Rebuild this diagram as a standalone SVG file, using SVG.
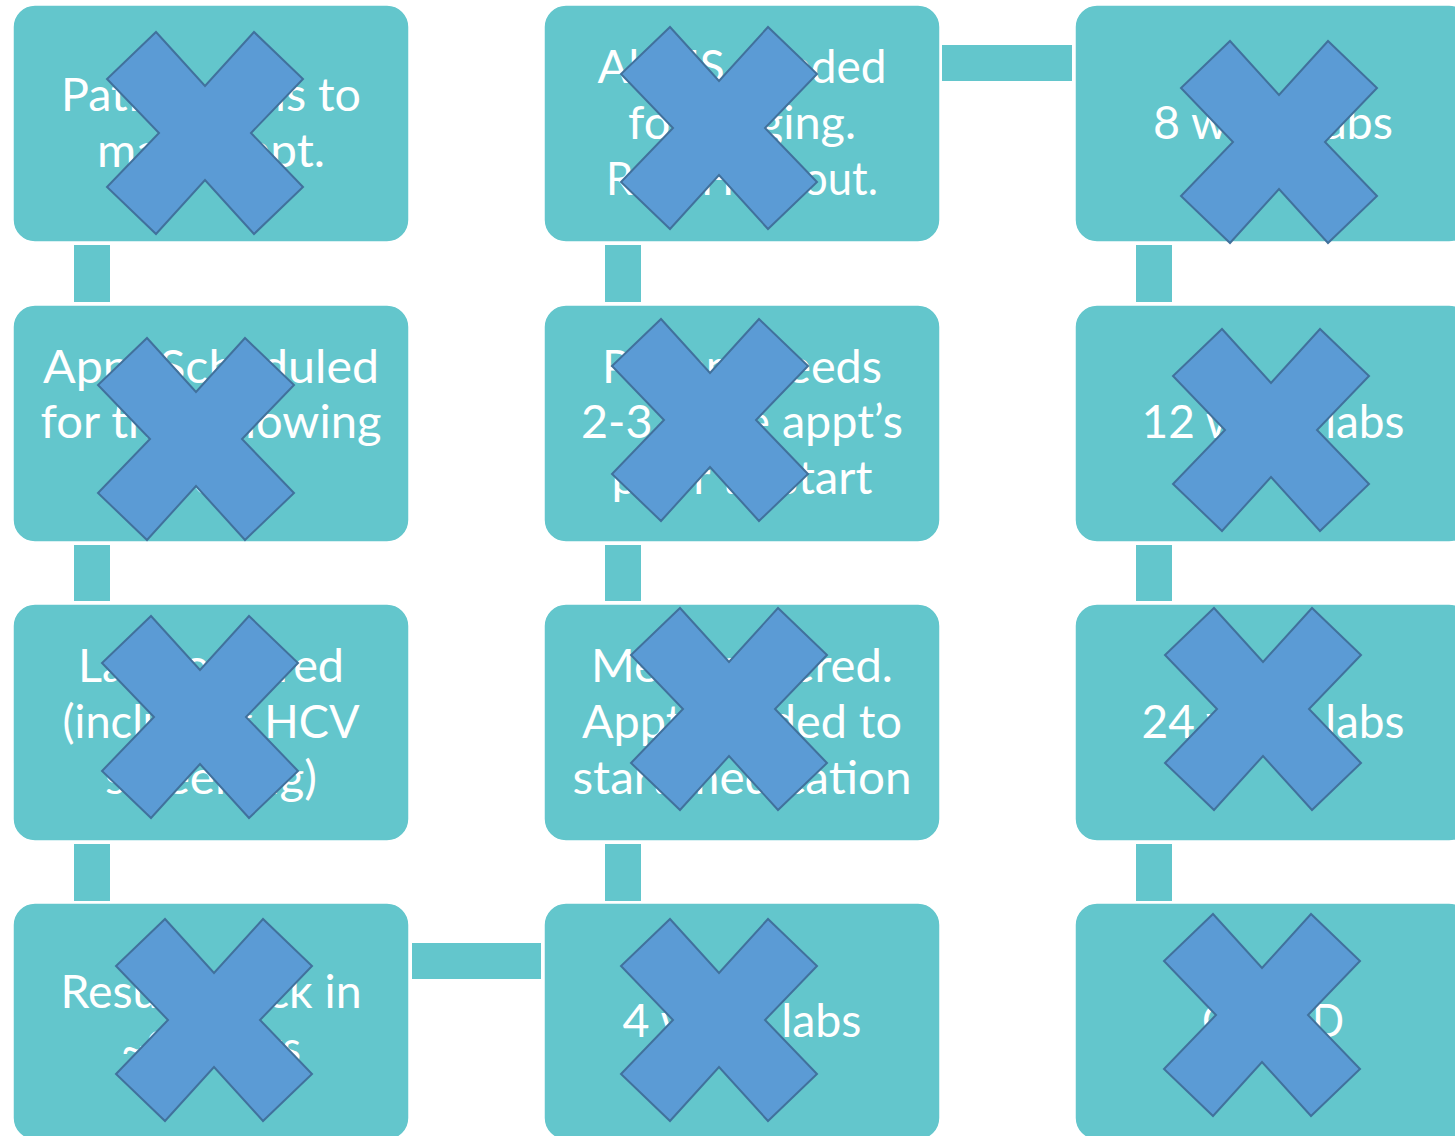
<svg xmlns="http://www.w3.org/2000/svg" xmlns:xlink="http://www.w3.org/1999/xlink" width="1455" height="1136" viewBox="0 0 1455 1136">
  <style>
    .box { fill: #63C6CC; stroke: #FFFFFF; stroke-width: 1.5; }
    .link { fill: #63C6CC; }
    .label { font-family: Lato, "Open Sans", "Liberation Sans", sans-serif; font-size: 46px; fill: #FFFFFF; text-anchor: middle; }
    .cross { fill: #5B9BD5; stroke: #41719C; stroke-width: 2; stroke-linejoin: miter; }
  </style>
  <defs>
    <!-- multiply-sign overlay, centred on the origin -->
    <polygon id="x-mark" class="cross" points="-49,-101 0,-47 49,-101 98,-54 46,0 98,54 49,101 0,47 -49,101 -98,54 -46,0 -98,-54"/>
  </defs>

  <rect width="1455" height="1136" fill="#FFFFFF"/>

  <!-- connectors between steps -->
  <g id="connectors">
    <rect class="link" x="74" y="245" width="36" height="57"/>
    <rect class="link" x="74" y="545" width="36" height="56"/>
    <rect class="link" x="74" y="844" width="36" height="57"/>
    <rect class="link" x="412" y="943" width="129" height="36"/>
    <rect class="link" x="605" y="844" width="36" height="57"/>
    <rect class="link" x="605" y="545" width="36" height="56"/>
    <rect class="link" x="605" y="245" width="36" height="57"/>
    <rect class="link" x="942" y="45" width="130" height="36"/>
    <rect class="link" x="1136" y="245" width="36" height="57"/>
    <rect class="link" x="1136" y="545" width="36" height="56"/>
    <rect class="link" x="1136" y="844" width="36" height="57"/>
  </g>

  <!-- column 1 -->
  <g id="step-call">
    <rect class="box" x="13" y="5" width="396" height="237" rx="22"/>
    <text class="label" x="211" y="111" textLength="300" lengthAdjust="spacingAndGlyphs">Patient calls to</text>
    <text class="label" x="211" y="167" textLength="228" lengthAdjust="spacingAndGlyphs">make appt.</text>
    <use xlink:href="#x-mark" x="205" y="133"/>
  </g>
  <g id="step-scheduled">
    <rect class="box" x="13" y="305" width="396" height="237" rx="22"/>
    <text class="label" x="211" y="383" textLength="336" lengthAdjust="spacingAndGlyphs">Appt Scheduled</text>
    <text class="label" x="211" y="438" textLength="341" lengthAdjust="spacingAndGlyphs">for the following</text>
    <text class="label" x="211" y="494" textLength="108" lengthAdjust="spacingAndGlyphs">week</text>
    <use xlink:href="#x-mark" x="196" y="439"/>
  </g>
  <g id="step-labs">
    <rect class="box" x="13" y="604" width="396" height="237" rx="22"/>
    <text class="label" x="211" y="682" textLength="266" lengthAdjust="spacingAndGlyphs">Labs ordered</text>
    <text class="label" x="211" y="738" textLength="297" lengthAdjust="spacingAndGlyphs">(including HCV</text>
    <text class="label" x="211" y="794" textLength="212" lengthAdjust="spacingAndGlyphs">screening)</text>
    <use xlink:href="#x-mark" x="200" y="717"/>
  </g>
  <g id="step-results">
    <rect class="box" x="13" y="903" width="396" height="237" rx="22"/>
    <text class="label" x="211" y="1008" textLength="301" lengthAdjust="spacingAndGlyphs">Results back in</text>
    <text class="label" x="211" y="1064" textLength="180" lengthAdjust="spacingAndGlyphs">~2 weeks</text>
    <use xlink:href="#x-mark" x="214" y="1020"/>
  </g>

  <!-- column 2 -->
  <g id="step-week4">
    <rect class="box" x="544" y="903" width="396" height="237" rx="22"/>
    <text class="label" x="742" y="1037" textLength="239" lengthAdjust="spacingAndGlyphs">4 week labs</text>
    <use xlink:href="#x-mark" x="719" y="1020"/>
  </g>
  <g id="step-meds">
    <rect class="box" x="544" y="604" width="396" height="237" rx="22"/>
    <text class="label" x="742" y="682" textLength="302" lengthAdjust="spacingAndGlyphs">Meds covered.</text>
    <text class="label" x="742" y="738" textLength="320" lengthAdjust="spacingAndGlyphs">Appt needed to</text>
    <text class="label" x="742" y="794" textLength="339" lengthAdjust="spacingAndGlyphs">start medication</text>
    <use xlink:href="#x-mark" x="729" y="709"/>
  </g>
  <g id="step-visits">
    <rect class="box" x="544" y="305" width="396" height="237" rx="22"/>
    <text class="label" x="742" y="383" textLength="280" lengthAdjust="spacingAndGlyphs">Patient needs</text>
    <text class="label" x="742" y="438" textLength="322" lengthAdjust="spacingAndGlyphs">2-3 more appt’s</text>
    <text class="label" x="742" y="494" textLength="261" lengthAdjust="spacingAndGlyphs">prior to start</text>
    <use xlink:href="#x-mark" x="710" y="420"/>
  </g>
  <g id="step-staging">
    <rect class="box" x="544" y="5" width="396" height="237" rx="22"/>
    <text class="label" x="742" y="83" textLength="289" lengthAdjust="spacingAndGlyphs">Ab US needed</text>
    <text class="label" x="742" y="139" textLength="228" lengthAdjust="spacingAndGlyphs">for staging.</text>
    <text class="label" x="742" y="195" textLength="272" lengthAdjust="spacingAndGlyphs">Rule HCC out.</text>
    <use xlink:href="#x-mark" x="719" y="128"/>
  </g>

  <!-- column 3 -->
  <g id="step-week8">
    <rect class="box" x="1075" y="5" width="396" height="237" rx="22"/>
    <text class="label" x="1273" y="139" textLength="240" lengthAdjust="spacingAndGlyphs">8 week labs</text>
    <use xlink:href="#x-mark" x="1279" y="142"/>
  </g>
  <g id="step-week12">
    <rect class="box" x="1075" y="305" width="396" height="237" rx="22"/>
    <text class="label" x="1273" y="438" textLength="263" lengthAdjust="spacingAndGlyphs">12 week labs</text>
    <use xlink:href="#x-mark" x="1271" y="430"/>
  </g>
  <g id="step-week24">
    <rect class="box" x="1075" y="604" width="396" height="237" rx="22"/>
    <text class="label" x="1273" y="738" textLength="263" lengthAdjust="spacingAndGlyphs">24 week labs</text>
    <use xlink:href="#x-mark" x="1263" y="709"/>
  </g>
  <g id="step-cured">
    <rect class="box" x="1075" y="903" width="396" height="237" rx="22"/>
    <text class="label" x="1273" y="1037" textLength="142" lengthAdjust="spacingAndGlyphs">CURED</text>
    <use xlink:href="#x-mark" x="1262" y="1015"/>
  </g>
</svg>
